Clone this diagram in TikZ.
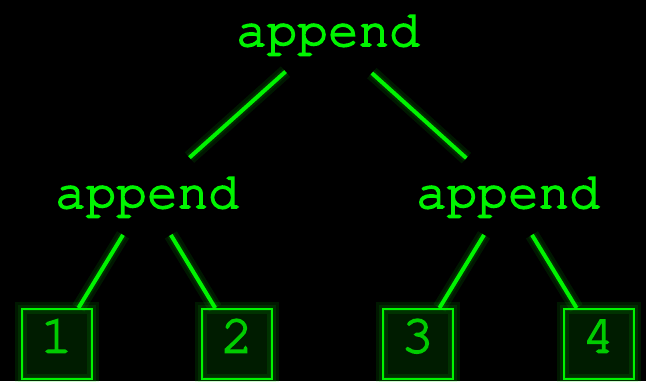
\documentclass[tikz,border=0pt]{standalone}
\usepackage[T1]{fontenc}
\usepackage{courier}
\usetikzlibrary{calc}
\definecolor{neon}{HTML}{00F400}
\definecolor{neondim}{HTML}{00CC00}
\definecolor{boxfill}{HTML}{001C00}
\newcommand\thicktext[1]{\special{pdf:literal direct 2 Tr 1.6 w}#1\special{pdf:literal direct 0 Tr}}
\begin{document}
\begin{tikzpicture}[x=1pt,y=-1pt,
  word/.style={font=\ttfamily\fontsize{51}{51}\selectfont, text=neon, inner sep=0pt, anchor=base},
  leaf/.style={draw=neon, line width=2pt, fill=boxfill, minimum width=70pt, minimum height=70pt,
    inner sep=0pt, text=neondim, font=\ttfamily\fontsize{54}{54}\selectfont,
    text height=36pt, text depth=19pt},
  link/.style={draw=neon, line width=4pt},
  halo/.style={draw=neon, draw opacity=0.10, line width=#1}]
\useasboundingbox (0,0) rectangle (646,381);
\fill[black] (0,0) rectangle (646,381);

\node[word] (top) at (328,46) {\thicktext{append}};
\node[word] (ml) at (147,208) {\thicktext{append}};
\node[word] (mr) at (508,208) {\thicktext{append}};

% leaves
\node[leaf] (b1) at (56.5,344) {\thicktext{1}};
\node[leaf] (b2) at (237,344) {\thicktext{2}};
\node[leaf] (b3) at (417.5,344) {\thicktext{3}};
\node[leaf] (b4) at (598.5,344) {\thicktext{4}};
\foreach \b in {b1,b2,b3,b4}{
  \draw[halo=12pt] (\b.north west) rectangle (\b.south east);
  \draw[halo=6pt] (\b.north west) rectangle (\b.south east);
}

% connectors
\foreach \p/\c/\s/\e in {top/ml/57/57, top/mr/59/56}{
  \draw[halo=14pt, shorten <=\s pt, shorten >=\e pt] (\p.center) -- (\c.center);
  \draw[halo=8pt, shorten <=\s pt, shorten >=\e pt] (\p.center) -- (\c.center);
  \draw[link, shorten <=\s pt, shorten >=\e pt] (\p.center) -- (\c.center);
}
\foreach \p/\c in {ml/b1, ml/b2, mr/b3, mr/b4}{
  \draw[halo=14pt, shorten <=46pt] (\p.center) -- (\c);
  \draw[halo=8pt, shorten <=46pt] (\p.center) -- (\c);
  \draw[link, shorten <=46pt] (\p.center) -- (\c);
}
\end{tikzpicture}
\end{document}
